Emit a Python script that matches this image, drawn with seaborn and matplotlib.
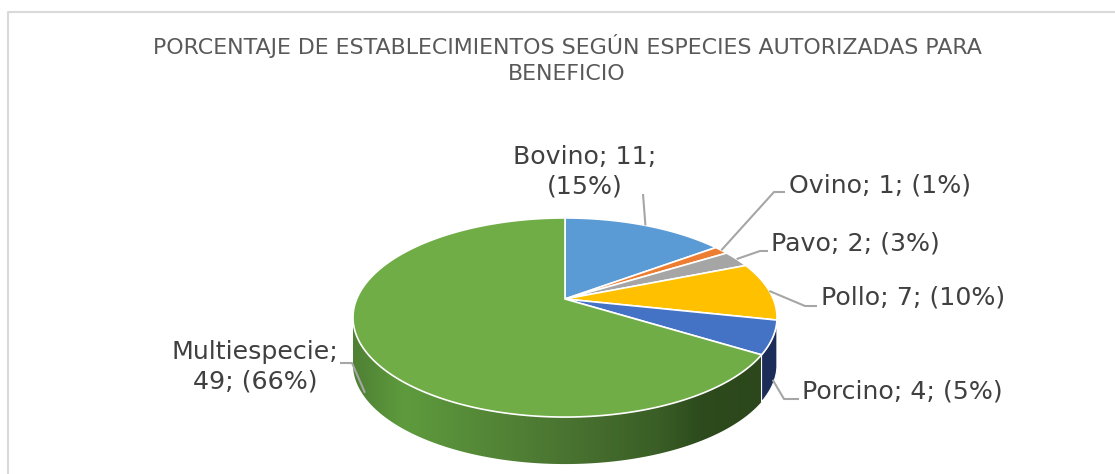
import numpy as np
import matplotlib
matplotlib.use("Agg")
import matplotlib.pyplot as plt
import seaborn as sns
from matplotlib.patches import Polygon
from matplotlib.colors import LinearSegmentedColormap

sns.set_theme(style="white")
plt.rcParams['font.family'] = ['DejaVu Sans']

# data
species = ["Bovino", "Ovino", "Pavo", "Pollo", "Porcino", "Multiespecie"]
counts = [11, 1, 2, 7, 4, 49]
shares = [15, 1, 3, 10, 5, 66]
title = "PORCENTAJE DE ESTABLECIMIENTOS SEGÚN ESPECIES AUTORIZADAS PARA\nBENEFICIO"

top_colors = ["#5B9BD5", "#ED7D31", "#A5A5A5", "#FFC000", "#4472C4", "#70AD47"]
side_colors = ["#2E5C87", "#93461A", "#5E5E5E", "#9C7400", "#1B2D58", None]

# geometry of the tilted pie (pixel space)
CX, CY = 565, 299
R, S, K = 208.3, 96.1, 0.186
DEPTH = 47


def project(theta_deg, r=1.0):
    t = np.radians(theta_deg)
    x, y = r * np.cos(t), r * np.sin(t)
    w = 1 + K * y
    return CX + R * x / w, CY - S * y / w


# label layout: text position, alignment, leader path (elbow, end), anchor drop
label_layout = {
    "Bovino": dict(xy=(585, 172), ha="center", wrap=True, path=[(643, 194)], drop=0.0),
    "Ovino": dict(xy=(789, 185), ha="left", wrap=False, path=[(774, 192), (785, 192)], drop=0.0),
    "Pavo": dict(xy=(771, 243), ha="left", wrap=False, path=[(760, 251), (768, 251)], drop=0.0),
    "Pollo": dict(xy=(821, 298), ha="left", wrap=False, path=[(805, 306), (817, 306)], drop=0.0),
    "Porcino": dict(xy=(802, 392), ha="left", wrap=False, path=[(784, 399), (799, 399)], drop=0.9),
    "Multiespecie": dict(xy=(255, 367), ha="center", wrap=True, path=[(352, 363), (340, 363)], drop=0.9),
}

fig = plt.figure(figsize=(11.15, 4.74), dpi=100)
ax = fig.add_axes([0, 0, 1, 1])

# let pie() turn the counts into angles, then redraw them in perspective
wedges, _ = ax.pie(counts, startangle=90, counterclock=False)
angles = [(w.theta1, w.theta2) for w in wedges]
for w in wedges:
    w.remove()

ax.set_aspect("auto")
ax.axis("off")

# chart border (top and left edges are inside the picture)
ax.plot([7.5, 7.5, 1120], [480, 11.5, 11.5], color="#D9D9D9", lw=1.5, zorder=0)

green_side = LinearSegmentedColormap.from_list(
    "side", [(0.0, "#4F8034"), (0.12, "#5E9B3D"), (0.5, "#4A7431"),
             (0.72, "#3A5E26"), (0.82, "#2D4B1D"), (1.0, "#2B461B")])

# side walls (only the front half is visible)
for (a1, a2), col in zip(angles, side_colors):
    th = np.linspace(a1, a2, 1200)
    vis = np.sin(np.radians(th)) < -K
    if vis.sum() < 2:
        continue
    xs, ys = project(th[vis])
    pts = np.vstack([np.column_stack([xs, ys]),
                     np.column_stack([xs[::-1], ys[::-1] + DEPTH])])
    if col is None:
        poly = Polygon(pts, closed=True, facecolor="none", edgecolor="none", zorder=1)
        ax.add_patch(poly)
        grad = np.linspace(0, 1, 256)[None, :]
        im = ax.imshow(grad, cmap=green_side, aspect="auto", zorder=1,
                       extent=(CX - 212, CX + 212, ys.max() + DEPTH + 2, ys.min() - 2))
        im.set_clip_path(poly)
    else:
        ax.add_patch(Polygon(pts, closed=True, facecolor=col, edgecolor="white", lw=0.8, zorder=2))

ax.set_xlim(0, 1115)
ax.set_ylim(474, 0)

# top face
for (a1, a2), col in zip(angles, top_colors):
    th = np.linspace(a1, a2, 400)
    xs, ys = project(th)
    pts = np.vstack([[CX, CY], np.column_stack([xs, ys])])
    ax.add_patch(Polygon(pts, closed=True, facecolor=col, edgecolor="white", lw=1.2, zorder=3))

# data labels with leader lines
for name, n, pct, (a1, a2) in zip(species, counts, shares, angles):
    lay = label_layout[name]
    if lay["wrap"]:
        if name == "Bovino":
            txt = f"{name}; {n};\n({pct}%)"
        else:
            txt = f"{name};\n{n}; ({pct}%)"
    else:
        txt = f"{name}; {n}; ({pct}%)"
    ax.text(*lay["xy"], txt, ha=lay["ha"], va="center", multialignment="center",
            fontsize=18.2, color="#404040", linespacing=1.27, zorder=5)
    mid = (a1 + a2) / 2
    x0, y0 = project(mid)
    y0 = y0 + lay["drop"] * DEPTH
    px = [x0] + [p[0] for p in lay["path"]]
    py = [y0] + [p[1] for p in lay["path"]]
    ax.plot(px, py, color="#A6A6A6", lw=1.5, zorder=4, solid_capstyle="butt")

ax.text(567, 59, title, ha="center", va="center", fontsize=15.9, color="#595959",
        linespacing=1.32, zorder=5)

fig.savefig("out.png", dpi=100)
